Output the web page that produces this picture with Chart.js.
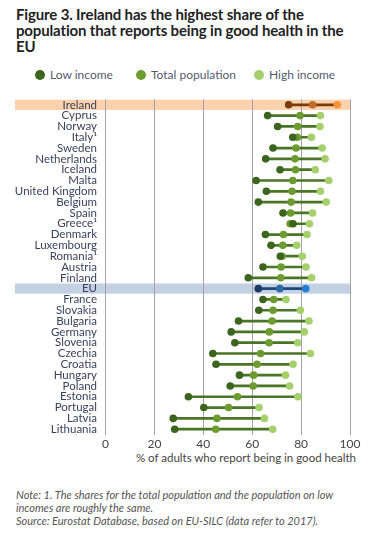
<!DOCTYPE html>
<html>
<head>
<meta charset="utf-8">
<script src="https://cdn.jsdelivr.net/npm/chart.js@4.4.1/dist/chart.umd.min.js"></script>
<style>
    body { margin: 0; background: #fff; width: 372px; height: 538px; position: relative; overflow: hidden; font-family: Lato, sans-serif; }
    .title { position: absolute; left: 16px; top: 6px; width: 356px; font-weight: bold; font-size: 15px; line-height: 16px; color: #222; letter-spacing: -0.15px; }
    .legend { position: absolute; top: 67px; left: 0; width: 372px; height: 16px; font-size: 12px; color: #555a6e; }
    .legend span { position: absolute; top: 0; line-height: 16px; white-space: nowrap; }
    .legend i { display: inline-block; width: 10px; height: 10px; border-radius: 50%; vertical-align: -1px; margin-right: 5px; }
    #wrap { position: absolute; left: 0; top: 84px; width: 372px; height: 366px; }
    .axis-title { position: absolute; top: 451px; right: 16px; font-size: 11.5px; color: #444; white-space: nowrap; }
    .note { position: absolute; left: 16px; top: 488px; width: 356px; font-style: italic; font-size: 11px; line-height: 13px; color: #555; }
</style>
</head>
<body>
<div class="title">Figure 3. Ireland has the highest share of the<br>population that reports being in good health in the<br>EU</div>
<div class="legend">
    <span style="left:35px"><i style="background:#3b651c"></i>Low income</span>
    <span style="left:136px"><i style="background:#6c9c30"></i>Total population</span>
    <span style="left:254px"><i style="background:#a5d06b"></i>High income</span>
</div>
<div id="wrap"><canvas id="chart"></canvas></div>
<div class="axis-title">% of adults who report being in good health</div>
<div class="note">Note: 1. The shares for the total population and the population on low<br>incomes are roughly the same.<br>Source: Eurostat Database, based on EU-SILC (data refer to 2017).</div>

<script>
const countries = ['Ireland', 'Cyprus', 'Norway', 'Italy\u00b9', 'Sweden', 'Netherlands', 'Iceland', 'Malta',
    'United Kingdom', 'Belgium', 'Spain', 'Greece\u00b9', 'Denmark', 'Luxembourg', 'Romania\u00b9', 'Austria',
    'Finland', 'EU', 'France', 'Slovakia', 'Bulgaria', 'Germany', 'Slovenia', 'Czechia', 'Croatia',
    'Hungary', 'Poland', 'Estonia', 'Portugal', 'Latvia', 'Lithuania'];

const lowIncome = [74.9, 66.3, 70.4, 76.6, 68.5, 65.5, 71.4, 61.6, 65.8, 62.5, 72.6, 76.7, 65.4, 67.7, 71.5, 64.4,
    58.4, 62.5, 64.4, 62.7, 54.4, 51.4, 52.9, 43.9, 45.2, 54.8, 51.0, 33.9, 40.2, 27.7, 28.3];
const totalPopulation = [84.7, 79.6, 78.6, 78.5, 77.9, 77.5, 77.7, 76.6, 76.3, 75.9, 75.7, 75.5, 72.8, 72.5, 72.2, 71.8,
    71.7, 71.3, 68.8, 68.5, 68.1, 67.0, 66.9, 63.4, 62.0, 60.6, 60.4, 54.0, 50.3, 45.6, 45.1];
const highIncome = [94.8, 87.9, 87.7, 84.2, 88.6, 89.8, 85.8, 91.3, 87.9, 90.3, 84.7, 83.4, 82.4, 78.2, 80.5, 82.0,
    84.3, 81.9, 73.8, 79.7, 83.2, 81.3, 78.6, 83.8, 76.7, 73.6, 75.3, 78.7, 62.8, 65.0, 68.4];

const xTicks = [0, 20, 40, 60, 80, 100];

// colour sets: normal rows green, Ireland orange, EU blue
const palette = {
    normal: { low: '#3b651c', total: '#6c9c30', high: '#a5d06b', line: '#4a7526', band: null },
    Ireland: { low: '#7a3a0c', total: '#c06a2e', high: '#f8923c', line: '#7a3a0c', band: '#fcd1ab' },
    EU: { low: '#1c3a66', total: '#2d6aa5', high: '#2180d1', line: '#1d4776', band: '#c4d0e3' }
};
const pick = (name, key) => (palette[name] || palette.normal)[key];

// highlight bands behind Ireland and EU rows
const rowBands = {
    id: 'rowBands',
    beforeDraw(chart) {
        const { ctx, chartArea, scales } = chart;
        const y = scales.y;
        const step = y.getPixelForValue(1) - y.getPixelForValue(0);
        ctx.save();
        countries.forEach((c, i) => {
            const band = pick(c, 'band');
            if (!band) return;
            const cy = y.getPixelForValue(i);
            ctx.fillStyle = band;
            ctx.fillRect(15, cy - step / 2 + 0.3, chartArea.right + 1 - 15, step - 0.6);
        });
        ctx.restore();
    }
};

function pointSet(label, values, key, order) {
    return {
        type: 'line',
        label: label,
        indexAxis: 'y',
        data: values.map((v, i) => ({ x: v, y: countries[i] })),
        showLine: false,
        pointRadius: 3.8,
        pointHoverRadius: 3.8,
        pointBorderWidth: 0,
        pointBackgroundColor: countries.map(c => pick(c, key)),
        pointBorderColor: countries.map(c => pick(c, key)),
        order: order
    };
}

new Chart(document.getElementById('chart'), {
    type: 'bar',
    data: {
        labels: countries,
        datasets: [
            pointSet('Low income', lowIncome, 'low', 1),
            pointSet('Total population', totalPopulation, 'total', 2),
            pointSet('High income', highIncome, 'high', 3),
            {
                label: 'range',
                data: countries.map((c, i) => [lowIncome[i], highIncome[i]]),
                backgroundColor: countries.map(c => pick(c, 'line')),
                barThickness: 2,
                borderSkipped: false,
                order: 10
            }
        ]
    },
    options: {
        indexAxis: 'y',
        responsive: true,
        maintainAspectRatio: false,
        animation: false,
        layout: { padding: { top: 7.2, right: 22, left: 0, bottom: 0 } },
        plugins: {
            legend: { display: false },
            tooltip: { enabled: false }
        },
        scales: {
            x: {
                type: 'linear',
                min: 0,
                max: 100,
                afterFit: s => { s.height = 15.4; },
                afterBuildTicks: s => { s.ticks = xTicks.map(v => ({ value: v })); },
                grid: { color: '#a3a3a3', lineWidth: 1, drawTicks: false },
                border: { display: false },
                ticks: { padding: 2, color: '#444', font: { family: 'Lato', size: 12 } }
            },
            y: {
                type: 'category',
                afterFit: s => { s.width = 105.5; },
                grid: { display: false, drawTicks: false },
                border: { display: false },
                ticks: { padding: 8.5, autoSkip: false, color: '#3a3f5e', font: { family: 'Lato', size: 11.5 } }
            }
        }
    },
    plugins: [rowBands]
});
</script>
</body>
</html>
